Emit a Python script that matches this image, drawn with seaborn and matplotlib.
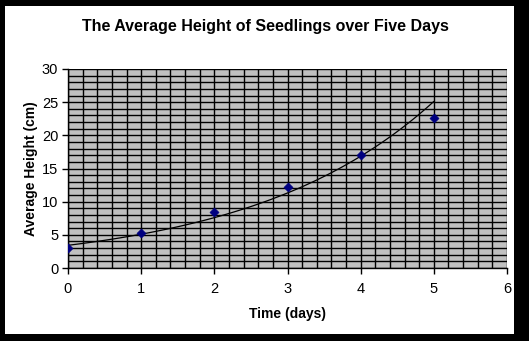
import numpy as np
import pandas as pd
import seaborn as sns
import matplotlib
matplotlib.use("Agg")
import matplotlib.pyplot as plt
from matplotlib.patches import Rectangle
from matplotlib.ticker import MultipleLocator

days = [0, 1, 2, 3, 4, 5]
heights = [3.0, 5.3, 8.5, 12.2, 17.0, 22.6]
title = "The Average Height of Seedlings over Five Days"
xlabel = "Time (days)"
ylabel = "Average Height (cm)"

sns.set_theme(style="white")
plt.rcParams['font.family'] = ['Liberation Sans', 'DejaVu Sans']

df = pd.DataFrame({"day": days, "height": heights})

# exponential trendline fitted to the data
b, loga = np.polyfit(df["day"], np.log(df["height"]), 1)
tx = np.linspace(0, 5, 100)
trend = pd.DataFrame({"day": tx, "height": np.exp(loga) * np.exp(b * tx)})

W, H = 529, 341
fig = plt.figure(figsize=(W / 100, H / 100), dpi=100)
fig.patch.set_facecolor("black")
fig.patches.append(Rectangle((5 / W, (H - 334) / H), 509 / W, 328 / H,
                             transform=fig.transFigure, facecolor="white",
                             edgecolor="none", zorder=-10))

ax = fig.add_axes([68 / W, (H - 268) / H, (507 - 68) / W, (268 - 69) / H])
ax.set_zorder(1)
ax.set_facecolor("#C0C0C0")

sns.lineplot(data=trend, x="day", y="height", ax=ax, color="black", linewidth=0.9, zorder=3)
sns.scatterplot(data=df, x="day", y="height", ax=ax, marker="D", s=22,
                color="#000080", edgecolor="#000080", zorder=4)

ax.set_xlim(0, 6)
ax.set_ylim(0, 30)
ax.xaxis.set_major_locator(MultipleLocator(1))
ax.xaxis.set_minor_locator(MultipleLocator(0.2))
ax.yaxis.set_major_locator(MultipleLocator(5))
ax.yaxis.set_minor_locator(MultipleLocator(1))
ax.grid(which="both", color="black", linewidth=1.0)
ax.set_axisbelow(True)
ax.tick_params(axis="both", which="major", direction="out", length=4, width=1,
               color="black", labelsize=10.5, labelcolor="black", bottom=True, left=True)
ax.tick_params(axis="x", which="major", pad=6)
ax.tick_params(axis="y", which="major", pad=3)
ax.tick_params(axis="both", which="minor", length=0)
for s in ["left", "bottom"]:
    ax.spines[s].set_color("black")
    ax.spines[s].set_linewidth(1)
for s in ["top", "right"]:
    ax.spines[s].set_visible(False)

ax.set_xlabel(xlabel, fontsize=10, fontweight="bold", color="black", labelpad=8)
ax.set_ylabel(ylabel, fontsize=10, fontweight="bold", color="black", labelpad=3)
fig.text(265 / W, 1 - 27 / H, title, ha="center", va="center",
         fontsize=11.5, fontweight="bold", color="black")

fig.savefig("out.png", dpi=100, facecolor=fig.get_facecolor())
